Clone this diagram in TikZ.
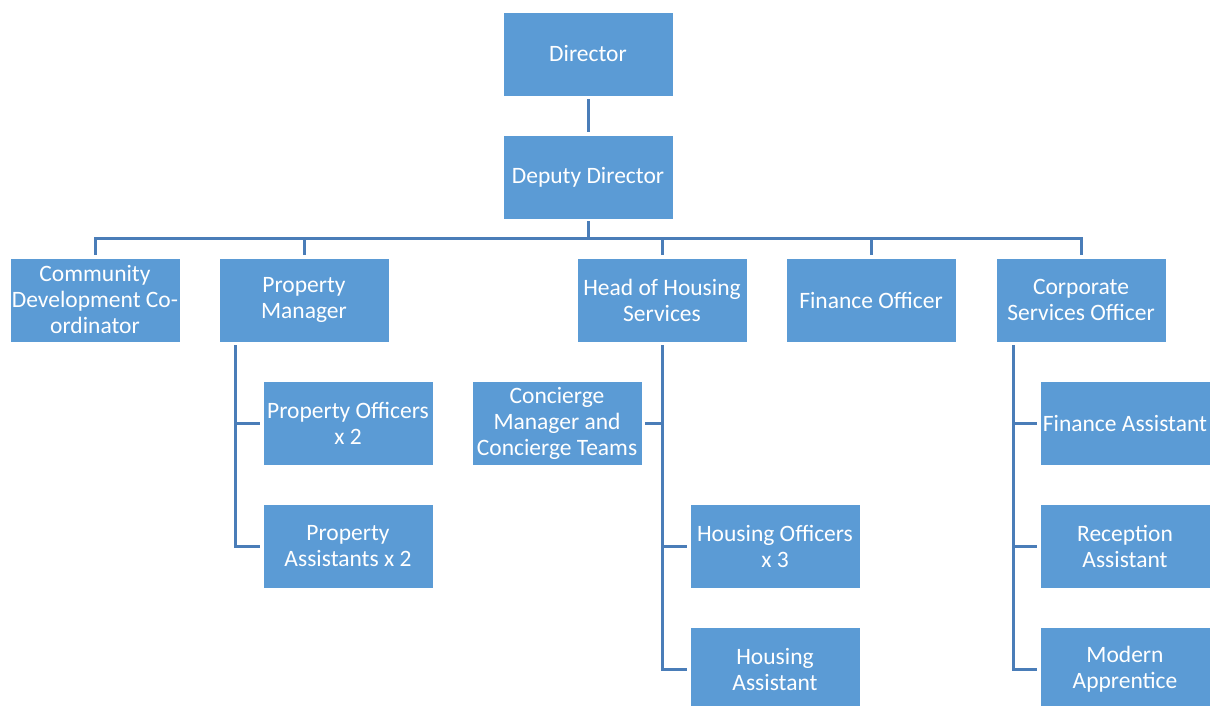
\documentclass[tikz,border=0pt]{standalone}
\usepackage{fontspec}
\setmainfont{Carlito}
\definecolor{boxblue}{HTML}{5B9BD5}
\definecolor{linkblue}{HTML}{4A7DB8}
\begin{document}
\begin{tikzpicture}[x=1pt,y=-1pt,
  role/.style={fill=boxblue, draw=white, line width=0.6pt, text=white,
    minimum width=170pt, minimum height=84pt, inner sep=0pt, align=center,
    font=\fontsize{23.5pt}{26pt}\selectfont},
  conn/.style={draw=linkblue, line width=3pt}]
\useasboundingbox (0,0) rectangle (1216,706);
\clip (0,0) rectangle (1216,706);

% top of the chart
\node[role] (dir) at (588,54) {Director};
\node[role] (dep) at (588,177) {Deputy Director};

% second level
\node[role] (cdc) at (95,300) {Community\\Development Co-\\ordinator};
\node[role] (pm)  at (304,300) {Property\\Manager};
\node[role] (hh)  at (662,300) {Head of Housing\\Services};
\node[role] (fo)  at (871,300) {Finance Officer};
\node[role] (cs)  at (1081,300) {Corporate\\Services Officer};

% property team
\node[role] (po) at (348,423) {Property Officers\\x 2};
\node[role] (pa) at (348,546) {Property\\Assistants x 2};

% housing team
\node[role] (con) at (557,423) {Concierge\\Manager and\\Concierge Teams};
\node[role] (ho)  at (775,546) {Housing Officers\\x 3};
\node[role] (ha)  at (775,669) {Housing\\Assistant};

% corporate services team
\node[role] (fa) at (1125,423) {Finance Assistant};
\node[role] (ra) at (1125,546) {Reception\\Assistant};
\node[role] (ma) at (1125,669) {Modern\\Apprentice};

% connectors
\coordinate (bus) at (588,238);
\coordinate (pmtop) at (235,345);
\coordinate (hhtop) at (662,345);
\coordinate (cstop) at (1013,345);

\draw[conn, shorten <=3pt, shorten >=3pt] (dir.south) -- (dep.north);
\draw[conn, shorten <=2pt] (dep.south) -- (bus);
\foreach \n in {cdc,pm,hh,fo,cs}
  \draw[conn, shorten <=3pt] (\n.north) |- (bus);

\foreach \n in {po,pa}
  \draw[conn, shorten >=3pt] (pmtop) |- (\n.west);
\draw[conn, shorten >=3pt] (hhtop) |- (con.east);
\foreach \n in {ho,ha}
  \draw[conn, shorten >=3pt] (hhtop) |- (\n.west);
\foreach \n in {fa,ra,ma}
  \draw[conn, shorten >=3pt] (cstop) |- (\n.west);
\end{tikzpicture}
\end{document}
